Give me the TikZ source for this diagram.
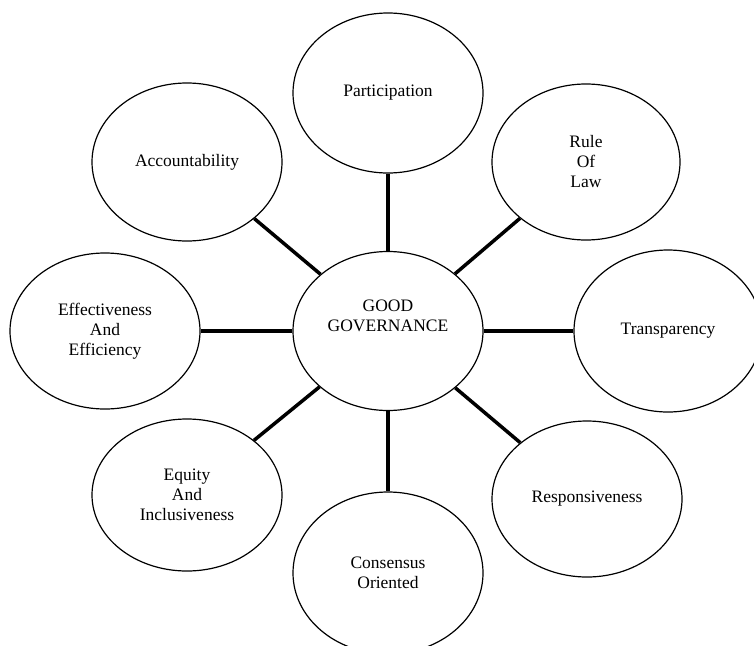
\documentclass[tikz,border=0pt]{standalone}
\usepackage{fontspec}
\setmainfont{Liberation Serif}
\usetikzlibrary{backgrounds,shapes}
\pgfdeclarelayer{edgelayer}
\pgfdeclarelayer{nodelayer}
\pgfsetlayers{edgelayer,nodelayer,main}
\tikzset{font=\fontsize{17.5}{20}\selectfont}
\tikzstyle{none}=[inner sep=0pt]
\tikzstyle{oval}=[ellipse,draw,line width=1.2pt,fill=white,align=center,inner sep=0pt,minimum width=190pt,minimum height=156pt]
\tikzstyle{hub}=[oval,minimum height=159pt,text depth=30pt]
\tikzstyle{spoke}=[line width=3.5pt]

\begin{document}
\begin{tikzpicture}[x=1pt,y=1pt]
	\useasboundingbox (0,0) rectangle (754,-645);
	\begin{pgfonlayer}{nodelayer}
		\node [style=hub] (0) at (388, -331) {GOOD\\GOVERNANCE};
		\node [style=oval, minimum height=160pt] (1) at (388, -93) {Participation};
		\node [style=oval, minimum height=158pt] (2) at (187, -162) {Accountability};
		\node [style=oval, minimum width=188pt] (3) at (586, -162) {Rule\\Of\\Law};
		\node [style=oval] (4) at (105, -331) {Effectiveness\\And\\Efficiency};
		\node [style=oval, minimum width=188pt, minimum height=162pt] (5) at (668, -331) {Transparency};
		\node [style=oval, minimum height=152pt] (6) at (187, -495) {Equity\\And\\Inclusiveness};
		\node [style=oval, minimum height=162pt] (7) at (388, -573) {Consensus\\Oriented};
		\node [style=oval] (8) at (587, -499) {Responsiveness};
	\end{pgfonlayer}
	\begin{pgfonlayer}{edgelayer}
		\draw [style=spoke] (0) to (1);
		\draw [style=spoke] (0) to (2);
		\draw [style=spoke] (0) to (3);
		\draw [style=spoke] (0) to (4);
		\draw [style=spoke] (0) to (5);
		\draw [style=spoke] (0) to (6);
		\draw [style=spoke] (0) to (7);
		\draw [style=spoke] (0) to (8);
	\end{pgfonlayer}
\end{tikzpicture}
\end{document}
